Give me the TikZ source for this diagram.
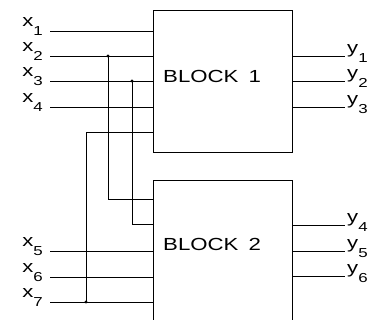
\documentclass[tikz,border=0pt]{standalone}
\usepackage{fontspec}
\setmainfont{Liberation Sans}
\usetikzlibrary{positioning}
\newcommand{\sig}[2]{\scalebox{1.3}[1]{#1\raisebox{-8.5pt}{\fontsize{13}{13}\selectfont #2}}}

\begin{document}
\begin{tikzpicture}[x=1pt, y=-1pt,
		block/.style={draw, line width=0.9pt, minimum width=139pt, inner sep=0pt},
		blocktext/.style={font=\fontsize{17.5}{18}\selectfont, inner sep=0pt, anchor=west},
		wire/.style={line width=0.9pt},
		siglabel/.style={font=\fontsize{17}{18}\selectfont, inner sep=0pt},
		dot/.style={circle, fill, inner sep=0pt, minimum size=3.2pt}]
			\useasboundingbox (0,0) rectangle (373,320);
			\node (b1) [block, minimum height=142pt] at (222.5,81) {};
			\node (b2) [block, minimum height=146pt] at (222.5,253) {};
			\node (t1) [blocktext] at (163,76) {\scalebox{1.27}[1]{BLOCK\hspace{0.45em}1}};
			\node (t2) [blocktext] at (163,244) {\scalebox{1.27}[1]{BLOCK\hspace{0.45em}2}};
			
			% inputs
			\coordinate (in1) at (50,31);
			\coordinate (in2) at (50,56);
			\coordinate (in3) at (50,81);
			\coordinate (in4) at (50,107);
			\coordinate (in5) at (50,251);
			\coordinate (in6) at (50,277);
			\coordinate (in7) at (50,302);
			\draw [wire] (in1) -- (in1 -| b1.west);
			\draw [wire] (in2) -- (in2 -| b1.west);
			\draw [wire] (in3) -- (in3 -| b1.west);
			\draw [wire] (in4) -- (in4 -| b1.west);
			\draw [wire] (in5) -- (in5 -| b2.west);
			\draw [wire] (in6) -- (in6 -| b2.west);
			\draw [wire] (in7) -- (in7 -| b2.west);
			\node (x1) [siglabel, anchor=base east] at ([xshift=-7pt, yshift=4pt]in1) {\sig{x}{1}};
			\node (x2) [siglabel, anchor=base east] at ([xshift=-7pt, yshift=4pt]in2) {\sig{x}{2}};
			\node (x3) [siglabel, anchor=base east] at ([xshift=-7pt, yshift=4pt]in3) {\sig{x}{3}};
			\node (x4) [siglabel, anchor=base east] at ([xshift=-7pt, yshift=4pt]in4) {\sig{x}{4}};
			\node (x5) [siglabel, anchor=base east] at ([xshift=-7pt, yshift=4pt]in5) {\sig{x}{5}};
			\node (x6) [siglabel, anchor=base east] at ([xshift=-7pt, yshift=4pt]in6) {\sig{x}{6}};
			\node (x7) [siglabel, anchor=base east] at ([xshift=-7pt, yshift=4pt]in7) {\sig{x}{7}};
			
			% cross connections
			\node (d2) [dot] at (108,56) {};
			\node (d3) [dot] at (132,81) {};
			\node (d7) [dot] at (86,302) {};
			\draw [wire] (d2.center) |- ([yshift=-20pt]b2.north west);
			\draw [wire] (d3.center) |- ([yshift=-45pt]b2.north west);
			\draw [wire] (d7.center) |- ([yshift=20pt]b1.south west);
			
			% outputs
			\coordinate (out1) at (345,56);
			\coordinate (out2) at (345,81);
			\coordinate (out3) at (345,107);
			\coordinate (out4) at (345,225);
			\coordinate (out5) at (345,251);
			\coordinate (out6) at (345,276);
			\draw [wire] (out1 -| b1.east) -- (out1);
			\draw [wire] (out2 -| b1.east) -- (out2);
			\draw [wire] (out3 -| b1.east) -- (out3);
			\draw [wire] (out4 -| b2.east) -- (out4);
			\draw [wire] (out5 -| b2.east) -- (out5);
			\draw [wire] (out6 -| b2.east) -- (out6);
			\node (y1) [siglabel, anchor=base west] at ([xshift=2pt, yshift=2pt]out1) {\sig{y}{1}};
			\node (y2) [siglabel, anchor=base west] at ([xshift=2pt, yshift=2pt]out2) {\sig{y}{2}};
			\node (y3) [siglabel, anchor=base west] at ([xshift=2pt, yshift=2pt]out3) {\sig{y}{3}};
			\node (y4) [siglabel, anchor=base west] at ([xshift=2pt, yshift=2pt]out4) {\sig{y}{4}};
			\node (y5) [siglabel, anchor=base west] at ([xshift=2pt, yshift=2pt]out5) {\sig{y}{5}};
			\node (y6) [siglabel, anchor=base west] at ([xshift=2pt, yshift=2pt]out6) {\sig{y}{6}};
		\end{tikzpicture}
\end{document}
